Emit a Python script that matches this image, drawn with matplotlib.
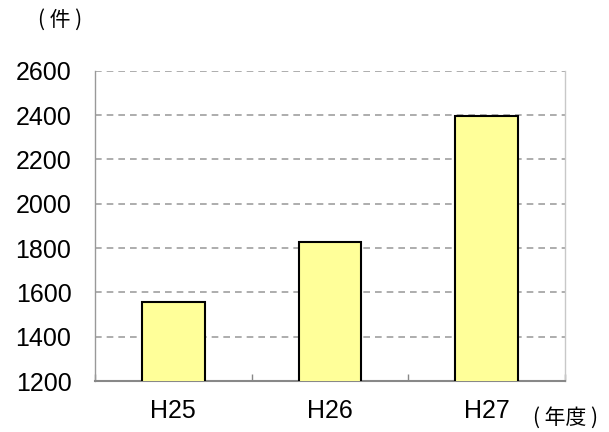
import matplotlib.pyplot as plt
import numpy as np

years = ["H25", "H26", "H27"]
counts = [1555, 1826, 2395]
y_ticks = [1200, 1400, 1600, 1800, 2000, 2200, 2400, 2600]

plt.rcParams["font.family"] = ["Liberation Sans", "Noto Sans CJK JP", "DejaVu Sans"]

fig = plt.figure(figsize=(6.09, 4.32), dpi=100)
ax = fig.add_axes([0.156, 0.118, 0.772, 0.718])

x = np.arange(len(years))
ax.bar(x, counts, width=0.4, color="#FFFF99", edgecolor="black", linewidth=1.5, zorder=3)

ax.set_xlim(-0.5, len(years) - 0.5)
ax.set_ylim(y_ticks[0], y_ticks[-1])
ax.set_yticks(y_ticks)
ax.set_xticks(x)
ax.set_xticklabels(years)
ax.set_xticks(np.arange(len(years) + 1) - 0.5, minor=True)

# dashed horizontal grid
for y in y_ticks[1:]:
    ax.axhline(y, color="#A0A0A0", linestyle=(0, (4, 3)), linewidth=1.2, zorder=1)

ax.tick_params(axis="y", length=0, pad=17, labelsize=18)
ax.tick_params(axis="x", which="major", length=0, pad=13, labelsize=18)
ax.tick_params(axis="x", which="minor", direction="in", length=5, color="#888888", width=1)

ax.spines["top"].set_visible(False)
ax.spines["left"].set_color("#999999")
ax.spines["left"].set_linewidth(1)
ax.spines["right"].set_color("#C8C8C8")
ax.spines["right"].set_linewidth(1)
ax.spines["bottom"].set_color("#888888")
ax.spines["bottom"].set_linewidth(1.5)

fig.text(0.099, 0.954, "( 件 )", fontsize=15, family=["Noto Sans CJK JP"], ha="center", va="center")
fig.text(0.929, 0.034, "( 年度 )", fontsize=15, family=["Noto Sans CJK JP"], ha="center", va="center")

plt.savefig("out.png", dpi=100)
